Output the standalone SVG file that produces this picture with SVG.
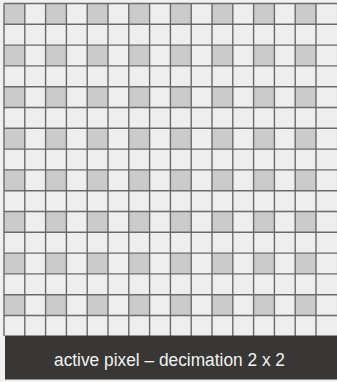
<svg xmlns="http://www.w3.org/2000/svg" width="337" height="382" viewBox="0 0 337 382">
  <style>
    .grid { fill: none; stroke: #6a6a6a; stroke-width: 1.4; }
    .label { font-family: "Liberation Sans", Arial, sans-serif; font-size: 18px; fill: #f2f2f2; }
  </style>
  <defs>
    <pattern id="cells" patternUnits="userSpaceOnUse" x="4" y="3.5" width="41.6" height="41.6">
      <rect x="0" y="0" width="41.6" height="41.6" fill="#eeeeee"/>
      <rect x="0" y="0" width="20.8" height="20.8" fill="#cbcbcb"/>
    </pattern>
  </defs>
  <rect x="0" y="0" width="337" height="382" fill="#f1f1f1"/>
  <g id="pixel-grid">
    <rect x="4" y="3.5" width="333" height="333" fill="url(#cells)"/>
    <path class="grid" d="M4 3.5V336 M24.8 3.5V336 M45.6 3.5V336 M66.4 3.5V336 M87.2 3.5V336 M108 3.5V336 M128.8 3.5V336 M149.6 3.5V336 M170.4 3.5V336 M191.2 3.5V336 M212 3.5V336 M232.8 3.5V336 M253.6 3.5V336 M274.4 3.5V336 M295.2 3.5V336 M316 3.5V336
      M4 3.5H337 M4 24.3H337 M4 45.1H337 M4 65.9H337 M4 86.7H337 M4 107.5H337 M4 128.3H337 M4 149.1H337 M4 169.9H337 M4 190.7H337 M4 211.5H337 M4 232.3H337 M4 253.1H337 M4 273.9H337 M4 294.7H337 M4 315.5H337"/>
  </g>
  <g id="caption">
    <rect x="5" y="335.5" width="332" height="44" fill="#383735"/>
    <text class="label" x="54" y="365.5" textLength="231" lengthAdjust="spacingAndGlyphs">active pixel – decimation 2 x 2</text>
  </g>
</svg>
